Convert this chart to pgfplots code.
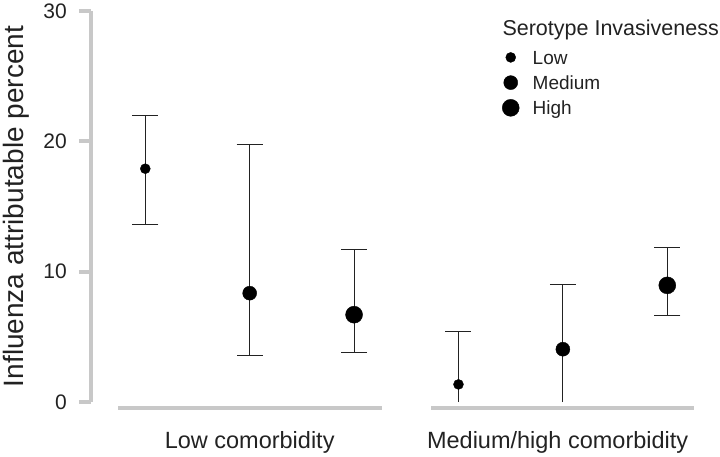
\documentclass[border=0pt]{standalone}
\usepackage{pgfplots}
\usepackage{pgfplotstable}
\pgfplotsset{compat=1.18}
\usepackage{fontspec}
\setmainfont{Liberation Sans}
\definecolor{axgray}{RGB}{200,200,200}
\definecolor{txt}{RGB}{34,34,34}
\pgfplotstableread{
x y ep em
0 17.9 4.1 4.25
1 8.35 11.4 4.75
2 6.7 5.0 2.9
5 8.95 2.92 2.33
}\errboth
\pgfplotstableread{
x y ep em
3 1.35 4.05 0
4 4.05 4.95 0
}\errplus
\begin{document}
\begin{tikzpicture}
\useasboundingbox (-91pt,-54pt) rectangle (629pt,402pt);
\begin{axis}[
  at={(0pt,0pt)}, anchor=south west,
  scale only axis, width=629pt, height=391pt,
  xmin=-0.52, xmax=5.505, ymin=0, ymax=30,
  axis x line=none, axis y line=left,
  axis line style={-, axgray, line width=4pt},
  ytick={0,10,20,30},
  tick align=outside, major tick length=12pt,
  ytick style={axgray, line width=4pt},
  yticklabel style={font=\fontsize{21}{25}\selectfont, text=txt, inner sep=0pt, xshift=-12pt},
  /pgf/number format/assume math mode=true,
  clip=false,
  legend cell align=left,
  legend style={draw=none, fill=none, at={(0.653,0.912)}, anchor=north west,
    inner sep=0pt, outer sep=0pt, row sep=2.2pt, column sep=13pt,
    font=\fontsize{19}{22}\selectfont, text=txt,
    nodes={inner sep=0pt, text height=14pt, text depth=4pt}},
  legend image code/.code={\path[draw=none, fill=none] (-9pt,-4pt) rectangle (9pt,14pt); \draw[#1] plot coordinates {(0pt,2pt)};},
]
% panel baselines
\addplot[forget plot, axgray, line width=4pt] coordinates {(-0.26,-0.46) (2.27,-0.46)};
\addplot[forget plot, axgray, line width=4pt] coordinates {(2.74,-0.46) (5.26,-0.46)};
% error bars
\addplot[forget plot, only marks, mark=none,
  error bars/.cd, y dir=both, y explicit, error mark=|,
  error bar style={draw=txt, line width=0.9pt},
  error mark options={draw=txt, line width=0.9pt, mark size=13pt}]
  table[x=x, y=y, y error plus=ep, y error minus=em] {\errboth};
\addplot[forget plot, only marks, mark=none,
  error bars/.cd, y dir=plus, y explicit, error mark=|,
  error bar style={draw=txt, line width=0.9pt},
  error mark options={draw=txt, line width=0.9pt, mark size=13pt}]
  table[x=x, y=y, y error plus=ep, y error minus=em] {\errplus};
\addplot[forget plot, txt, line width=0.9pt] coordinates {(3,0) (3,1.35)};
\addplot[forget plot, txt, line width=0.9pt] coordinates {(4,0) (4,4.05)};
% points
\addplot[only marks, mark=*, mark size=5pt, black, mark options={fill=black}] coordinates {(0,17.9) (3,1.35)};
\addlegendentry{Low}
\addplot[only marks, mark=*, mark size=7pt, black, mark options={fill=black}] coordinates {(1,8.35) (4,4.05)};
\addlegendentry{Medium}
\addplot[only marks, mark=*, mark size=8.5pt, black, mark options={fill=black}] coordinates {(2,6.7) (5,8.95)};
\addlegendentry{High}
% texts
\node[anchor=base, inner sep=0pt, font=\fontsize{23.5}{28}\selectfont, text=txt] at (axis cs:1,-3.55) {Low comorbidity};
\node[anchor=base, inner sep=0pt, font=\fontsize{23.5}{28}\selectfont, text=txt] at (axis cs:3.95,-3.55) {Medium/high comorbidity};
\node[rotate=90, anchor=base, inner sep=0pt, font=\fontsize{28}{32}\selectfont, text=txt] at (axis cs:-1.169,15) {Influenza attributable percent};
\node[anchor=base west, inner sep=0pt, font=\fontsize{21.5}{25}\selectfont, text=txt] at (axis cs:3.42,28.09) {Serotype Invasiveness};
\end{axis}
\end{tikzpicture}
\end{document}
